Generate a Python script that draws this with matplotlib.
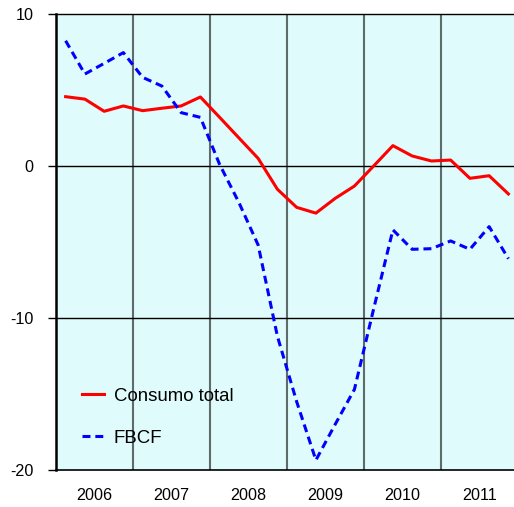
import matplotlib
matplotlib.use("Agg")
import matplotlib.pyplot as plt
import numpy as np

plt.rcParams['font.family'] = ['Liberation Sans', 'DejaVu Sans']

years = ['2006', '2007', '2008', '2009', '2010', '2011']
consumo = [4.56, 4.4, 3.6, 3.95, 3.64, 3.8, 3.95, 4.54,
           3.2, 1.85, 0.5, -1.53, -2.72, -3.1, -2.13, -1.32,
           0.0, 1.34, 0.66, 0.33, 0.39, -0.81, -0.64, -1.84]
fbcf = [8.24, 6.05, 6.75, 7.46, 5.83, 5.26, 3.51, 3.2,
        0.1, -2.4, -5.2, -11.2, -15.5, -19.35, -17.0, -14.7,
        -9.4, -4.2, -5.48, -5.44, -4.93, -5.48, -3.99, -6.1]
yticks = [-20, -10, 0, 10]

q = np.arange(len(consumo))

fig = plt.figure(figsize=(5.14, 5.07), dpi=100)
ax = fig.add_axes([56 / 514, 37 / 507, 458 / 514, 456 / 507])
ax.set_facecolor('#dffbfb')

# year separators and horizontal grid
for b in np.arange(3.5, 23, 4):
    ax.axvline(b, color='#5f6b6b', lw=1.5, zorder=1)
for y in [-10, 0]:
    ax.axhline(y, color='black', lw=1.0, zorder=1)

ax.plot(q, consumo, color='#ff0000', lw=2.2, label='Consumo total', zorder=3)
ax.plot(q, fbcf, color='#0000ff', lw=2.2, ls=(0, (2.6, 1.6)), label='FBCF', zorder=3)

ax.set_xlim(-0.5, 23.29)
ax.set_ylim(-20, 10)
ax.set_yticks(yticks)
ax.set_yticklabels([str(t) for t in yticks])
ax.set_xticks(np.arange(1.5, 24, 4))
ax.set_xticklabels(years)
ax.tick_params(axis='y', length=6, width=1, pad=10, labelsize=11.6, direction='out')
ax.tick_params(axis='x', length=0, pad=13, labelsize=11.6)

ax.spines['right'].set_visible(False)
ax.spines['left'].set_linewidth(1.8)
ax.spines['top'].set_linewidth(1.0)
ax.spines['bottom'].set_linewidth(1.2)

ax.legend(loc='center left', bbox_to_anchor=(0.057, 0.116), frameon=False,
          fontsize=13.4, handlelength=1.2, handletextpad=0.5,
          labelspacing=1.35, borderpad=0, borderaxespad=0)

fig.savefig('out.png', dpi=100)
